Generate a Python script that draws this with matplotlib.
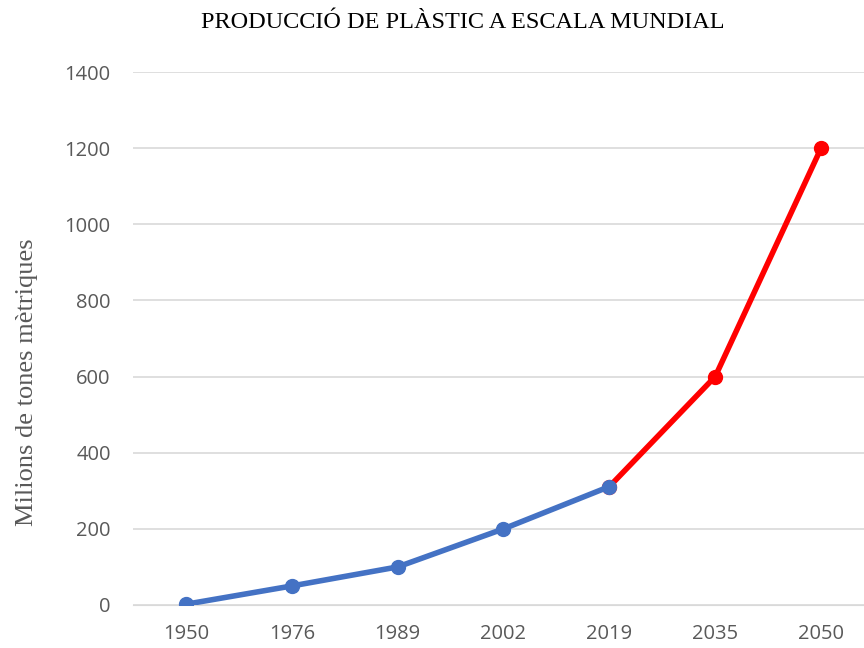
import matplotlib.pyplot as plt

years = ['1950', '1976', '1989', '2002', '2019', '2035', '2050']
produccio = [2, 50, 100, 200, 311, 600, 1200]
n_real = 5  # the first five points are blue, the rest (forecast) red

fig = plt.figure(figsize=(8.64, 6.48), dpi=100)
ax = fig.add_axes([133/864, 43/648, 741/864, 533/648])

x = list(range(len(years)))
ax.plot(x[n_real-1:], produccio[n_real-1:], color='#ff0000', lw=4,
        marker='o', ms=10, zorder=3)
ax.plot(x[:n_real], produccio[:n_real], color='#4472c4', lw=4,
        marker='o', ms=10, zorder=4)

ax.set_xlim(-0.5, len(years) - 0.5)
ax.set_ylim(0, 1400)
ax.set_yticks(range(0, 1401, 200))
ax.set_xticks(x)
ax.set_xticklabels(years)
ax.grid(axis='y', color='#d9d9d9', lw=1.2)
ax.set_axisbelow(True)
for s in ['top', 'right', 'left']:
    ax.spines[s].set_visible(False)
ax.spines['bottom'].set_color('#d9d9d9')
ax.tick_params(length=0, labelsize=14.5, colors='#595959')
ax.tick_params(axis='y', pad=16)
ax.tick_params(axis='x', pad=14)
for lab in ax.get_xticklabels() + ax.get_yticklabels():
    lab.set_fontfamily('Open Sans')

fig.text(27/864, 1 - 382/648, 'Milions de tones mètriques',
         family='Liberation Serif', fontsize=19, color='#595959',
         rotation=90, ha='center', va='center')
fig.text(463/864, 1 - 22/648, 'PRODUCCIÓ DE PLÀSTIC A ESCALA MUNDIAL',
         family='Liberation Serif', fontsize=17.5, ha='center', va='center')

fig.savefig('out.png', dpi=100)
